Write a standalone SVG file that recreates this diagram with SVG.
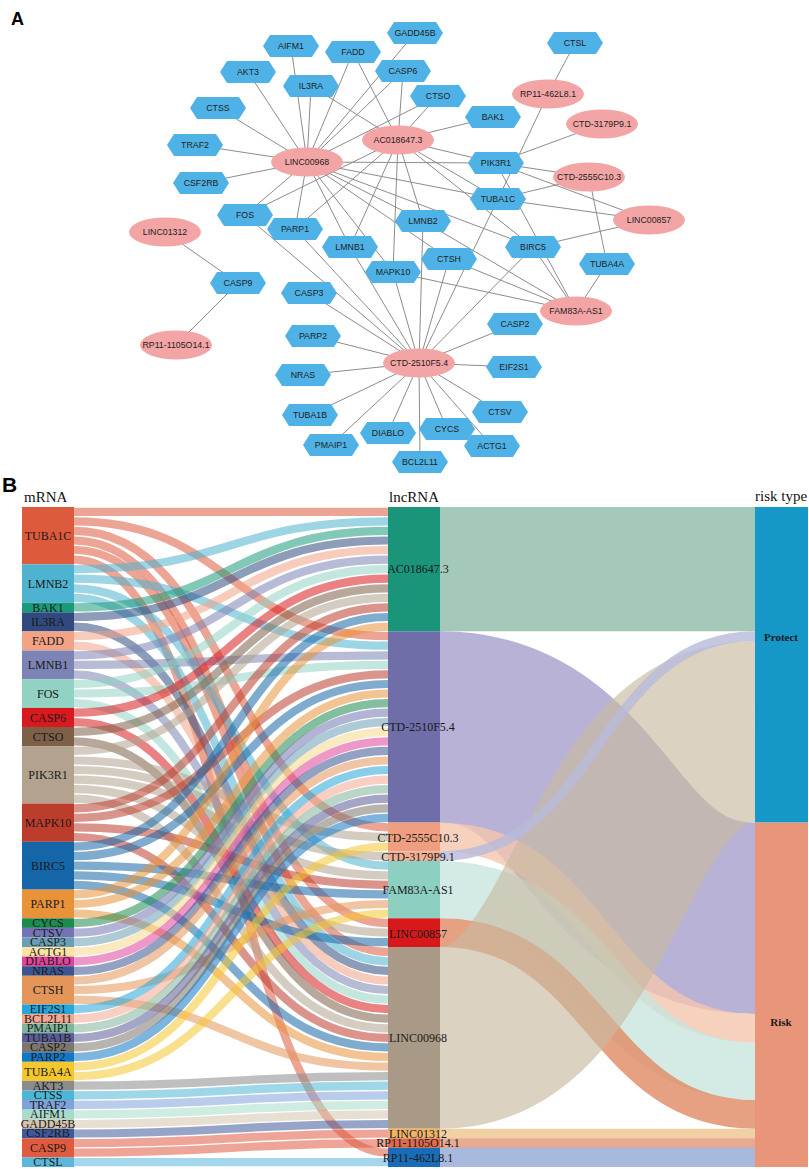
<svg xmlns="http://www.w3.org/2000/svg" xmlns:xlink="http://www.w3.org/1999/xlink" width="809" height="1169" viewBox="0 0 809 1169">
<style>
.bg{fill:#fff}
.ed{stroke:#8c8c8c;stroke-width:1;fill:none}
.hx{fill:#4fb2e6}
.el{fill:#f3a5a5}
.nt{font-family:"Liberation Sans",Arial,sans-serif;font-size:8.8px;fill:#1e1e1e;text-anchor:middle}
.pl{font-family:"Liberation Sans",Arial,sans-serif;font-weight:bold;fill:#000}
.hd{font-family:"Liberation Serif","Times New Roman",serif;font-size:15px;fill:#111}
.ml{font-family:"Liberation Serif","Times New Roman",serif;font-size:12px;fill:#1a1a1a;text-anchor:middle}
.rl{font-family:"Liberation Serif","Times New Roman",serif;font-size:11px;font-weight:bold;fill:#1a1a1a;text-anchor:middle}
.lk{fill:none;stroke-width:8.2;stroke-opacity:0.55}
.rk{fill:none;stroke-opacity:0.8}
.rb{fill:none;stroke-opacity:0.65}
</style>
<defs>
<polygon id="hex" points="-28,0 -21,-11 21,-11 28,0 21,11 -21,11"/>
</defs>
<rect class="bg" x="0" y="0" width="809" height="1169"/>
<text class="pl" x="11" y="25" font-size="18">A</text>
<text class="pl" x="2" y="492" font-size="21">B</text>

<!-- ============ Part A connectors ============ -->
<g id="network-edges">
<line class="ed" x1="398" y1="140" x2="498" y2="199"/>
<line class="ed" x1="398" y1="140" x2="423" y2="221"/>
<line class="ed" x1="398" y1="140" x2="493" y2="117"/>
<line class="ed" x1="398" y1="140" x2="311" y2="86"/>
<line class="ed" x1="398" y1="140" x2="353" y2="52"/>
<line class="ed" x1="398" y1="140" x2="350" y2="247"/>
<line class="ed" x1="398" y1="140" x2="245" y2="215"/>
<line class="ed" x1="398" y1="140" x2="403" y2="71"/>
<line class="ed" x1="398" y1="140" x2="438" y2="96"/>
<line class="ed" x1="398" y1="140" x2="496" y2="163"/>
<line class="ed" x1="398" y1="140" x2="393" y2="272"/>
<line class="ed" x1="398" y1="140" x2="533" y2="247"/>
<line class="ed" x1="398" y1="140" x2="295" y2="229"/>
<line class="ed" x1="419" y1="363" x2="498" y2="199"/>
<line class="ed" x1="419" y1="363" x2="423" y2="221"/>
<line class="ed" x1="419" y1="363" x2="350" y2="247"/>
<line class="ed" x1="419" y1="363" x2="245" y2="215"/>
<line class="ed" x1="419" y1="363" x2="393" y2="272"/>
<line class="ed" x1="419" y1="363" x2="533" y2="247"/>
<line class="ed" x1="419" y1="363" x2="295" y2="229"/>
<line class="ed" x1="419" y1="363" x2="447" y2="429"/>
<line class="ed" x1="419" y1="363" x2="500" y2="412"/>
<line class="ed" x1="419" y1="363" x2="309" y2="293"/>
<line class="ed" x1="419" y1="363" x2="492" y2="446"/>
<line class="ed" x1="419" y1="363" x2="388" y2="433"/>
<line class="ed" x1="419" y1="363" x2="303" y2="375"/>
<line class="ed" x1="419" y1="363" x2="449" y2="259"/>
<line class="ed" x1="419" y1="363" x2="514" y2="367"/>
<line class="ed" x1="419" y1="363" x2="420" y2="462"/>
<line class="ed" x1="419" y1="363" x2="331" y2="445"/>
<line class="ed" x1="419" y1="363" x2="310" y2="415"/>
<line class="ed" x1="419" y1="363" x2="515" y2="324"/>
<line class="ed" x1="419" y1="363" x2="313" y2="336"/>
<line class="ed" x1="589" y1="177" x2="498" y2="199"/>
<line class="ed" x1="589" y1="177" x2="496" y2="163"/>
<line class="ed" x1="589" y1="177" x2="607" y2="264"/>
<line class="ed" x1="602" y1="124" x2="496" y2="163"/>
<line class="ed" x1="576" y1="311" x2="423" y2="221"/>
<line class="ed" x1="576" y1="311" x2="496" y2="163"/>
<line class="ed" x1="576" y1="311" x2="393" y2="272"/>
<line class="ed" x1="576" y1="311" x2="533" y2="247"/>
<line class="ed" x1="576" y1="311" x2="449" y2="259"/>
<line class="ed" x1="576" y1="311" x2="607" y2="264"/>
<line class="ed" x1="649" y1="220" x2="498" y2="199"/>
<line class="ed" x1="649" y1="220" x2="496" y2="163"/>
<line class="ed" x1="649" y1="220" x2="533" y2="247"/>
<line class="ed" x1="307" y1="162" x2="498" y2="199"/>
<line class="ed" x1="307" y1="162" x2="423" y2="221"/>
<line class="ed" x1="307" y1="162" x2="311" y2="86"/>
<line class="ed" x1="307" y1="162" x2="353" y2="52"/>
<line class="ed" x1="307" y1="162" x2="350" y2="247"/>
<line class="ed" x1="307" y1="162" x2="245" y2="215"/>
<line class="ed" x1="307" y1="162" x2="403" y2="71"/>
<line class="ed" x1="307" y1="162" x2="438" y2="96"/>
<line class="ed" x1="307" y1="162" x2="496" y2="163"/>
<line class="ed" x1="307" y1="162" x2="393" y2="272"/>
<line class="ed" x1="307" y1="162" x2="533" y2="247"/>
<line class="ed" x1="307" y1="162" x2="295" y2="229"/>
<line class="ed" x1="307" y1="162" x2="449" y2="259"/>
<line class="ed" x1="307" y1="162" x2="248" y2="72"/>
<line class="ed" x1="307" y1="162" x2="218" y2="108"/>
<line class="ed" x1="307" y1="162" x2="195" y2="145"/>
<line class="ed" x1="307" y1="162" x2="291" y2="46"/>
<line class="ed" x1="307" y1="162" x2="415" y2="33"/>
<line class="ed" x1="307" y1="162" x2="201" y2="183"/>
<line class="ed" x1="165" y1="232" x2="238" y2="283"/>
<line class="ed" x1="176" y1="345" x2="238" y2="283"/>
<line class="ed" x1="548" y1="94" x2="498" y2="199"/>
<line class="ed" x1="548" y1="94" x2="575" y2="43"/>
</g>

<!-- ============ Part A nodes ============ -->
<g id="n-GADD45B"><use href="#hex" class="hx" x="415" y="33"/><text class="nt" x="415" y="36">GADD45B</text></g>
<g id="n-AIFM1"><use href="#hex" class="hx" x="291" y="46"/><text class="nt" x="291" y="49">AIFM1</text></g>
<g id="n-FADD"><use href="#hex" class="hx" x="353" y="52"/><text class="nt" x="353" y="55">FADD</text></g>
<g id="n-CTSL"><use href="#hex" class="hx" x="575" y="43"/><text class="nt" x="575" y="46">CTSL</text></g>
<g id="n-AKT3"><use href="#hex" class="hx" x="248" y="72"/><text class="nt" x="248" y="75">AKT3</text></g>
<g id="n-CASP6"><use href="#hex" class="hx" x="403" y="71"/><text class="nt" x="403" y="74">CASP6</text></g>
<g id="n-IL3RA"><use href="#hex" class="hx" x="311" y="86"/><text class="nt" x="311" y="89">IL3RA</text></g>
<g id="n-CTSO"><use href="#hex" class="hx" x="438" y="96"/><text class="nt" x="438" y="99">CTSO</text></g>
<g id="n-BAK1"><use href="#hex" class="hx" x="493" y="117"/><text class="nt" x="493" y="120">BAK1</text></g>
<g id="n-CTSS"><use href="#hex" class="hx" x="218" y="108"/><text class="nt" x="218" y="111">CTSS</text></g>
<g id="n-TRAF2"><use href="#hex" class="hx" x="195" y="145"/><text class="nt" x="195" y="148">TRAF2</text></g>
<g id="n-PIK3R1"><use href="#hex" class="hx" x="496" y="163"/><text class="nt" x="496" y="166">PIK3R1</text></g>
<g id="n-CSF2RB"><use href="#hex" class="hx" x="201" y="183"/><text class="nt" x="201" y="186">CSF2RB</text></g>
<g id="n-TUBA1C"><use href="#hex" class="hx" x="498" y="199"/><text class="nt" x="498" y="202">TUBA1C</text></g>
<g id="n-FOS"><use href="#hex" class="hx" x="245" y="215"/><text class="nt" x="245" y="218">FOS</text></g>
<g id="n-LMNB2"><use href="#hex" class="hx" x="423" y="221"/><text class="nt" x="423" y="224">LMNB2</text></g>
<g id="n-PARP1"><use href="#hex" class="hx" x="295" y="229"/><text class="nt" x="295" y="232">PARP1</text></g>
<g id="n-LMNB1"><use href="#hex" class="hx" x="350" y="247"/><text class="nt" x="350" y="250">LMNB1</text></g>
<g id="n-BIRC5"><use href="#hex" class="hx" x="533" y="247"/><text class="nt" x="533" y="250">BIRC5</text></g>
<g id="n-CTSH"><use href="#hex" class="hx" x="449" y="259"/><text class="nt" x="449" y="262">CTSH</text></g>
<g id="n-MAPK10"><use href="#hex" class="hx" x="393" y="272"/><text class="nt" x="393" y="275">MAPK10</text></g>
<g id="n-TUBA4A"><use href="#hex" class="hx" x="607" y="264"/><text class="nt" x="607" y="267">TUBA4A</text></g>
<g id="n-CASP9"><use href="#hex" class="hx" x="238" y="283"/><text class="nt" x="238" y="286">CASP9</text></g>
<g id="n-CASP3"><use href="#hex" class="hx" x="309" y="293"/><text class="nt" x="309" y="296">CASP3</text></g>
<g id="n-CASP2"><use href="#hex" class="hx" x="515" y="324"/><text class="nt" x="515" y="327">CASP2</text></g>
<g id="n-PARP2"><use href="#hex" class="hx" x="313" y="336"/><text class="nt" x="313" y="339">PARP2</text></g>
<g id="n-NRAS"><use href="#hex" class="hx" x="303" y="375"/><text class="nt" x="303" y="378">NRAS</text></g>
<g id="n-EIF2S1"><use href="#hex" class="hx" x="514" y="367"/><text class="nt" x="514" y="370">EIF2S1</text></g>
<g id="n-TUBA1B"><use href="#hex" class="hx" x="310" y="415"/><text class="nt" x="310" y="418">TUBA1B</text></g>
<g id="n-CTSV"><use href="#hex" class="hx" x="500" y="412"/><text class="nt" x="500" y="415">CTSV</text></g>
<g id="n-CYCS"><use href="#hex" class="hx" x="447" y="429"/><text class="nt" x="447" y="432">CYCS</text></g>
<g id="n-DIABLO"><use href="#hex" class="hx" x="388" y="433"/><text class="nt" x="388" y="436">DIABLO</text></g>
<g id="n-PMAIP1"><use href="#hex" class="hx" x="331" y="445"/><text class="nt" x="331" y="448">PMAIP1</text></g>
<g id="n-ACTG1"><use href="#hex" class="hx" x="492" y="446"/><text class="nt" x="492" y="449">ACTG1</text></g>
<g id="n-BCL2L11"><use href="#hex" class="hx" x="420" y="462"/><text class="nt" x="420" y="465">BCL2L11</text></g>

<g id="n-RP11-462L8.1"><ellipse class="el" cx="548" cy="94" rx="36" ry="14.5"/><text class="nt" x="548" y="97">RP11-462L8.1</text></g>
<g id="n-CTD-3179P9.1"><ellipse class="el" cx="602" cy="124" rx="36" ry="14.5"/><text class="nt" x="602" y="127">CTD-3179P9.1</text></g>
<g id="n-AC018647.3"><ellipse class="el" cx="398" cy="140" rx="36" ry="14.5"/><text class="nt" x="398" y="143">AC018647.3</text></g>
<g id="n-LINC00968"><ellipse class="el" cx="307" cy="162" rx="36" ry="14.5"/><text class="nt" x="307" y="165">LINC00968</text></g>
<g id="n-CTD-2555C10.3"><ellipse class="el" cx="589" cy="177" rx="36" ry="14.5"/><text class="nt" x="589" y="180">CTD-2555C10.3</text></g>
<g id="n-LINC00857"><ellipse class="el" cx="649" cy="220" rx="36" ry="14.5"/><text class="nt" x="649" y="223">LINC00857</text></g>
<g id="n-LINC01312"><ellipse class="el" cx="165" cy="232" rx="36" ry="14.5"/><text class="nt" x="165" y="235">LINC01312</text></g>
<g id="n-FAM83A-AS1"><ellipse class="el" cx="576" cy="311" rx="36" ry="14.5"/><text class="nt" x="576" y="314">FAM83A-AS1</text></g>
<g id="n-RP11-1105O14.1"><ellipse class="el" cx="176" cy="345" rx="36" ry="14.5"/><text class="nt" x="176" y="348">RP11-1105O14.1</text></g>
<g id="n-CTD-2510F5.4"><ellipse class="el" cx="419" cy="363" rx="36" ry="14.5"/><text class="nt" x="419" y="366">CTD-2510F5.4</text></g>

<!-- ============ Part B ============ -->
<text class="hd" x="24" y="502">mRNA</text>
<text class="hd" x="389" y="502">lncRNA</text>
<text class="hd" x="755" y="501">risk type</text>

<g id="sankey-links">
<path class="lk" stroke="#dd5a3c" d="M74,511.8 C231,511.8 231,511.8 388,511.8"/>
<path class="lk" stroke="#dd5a3c" d="M74,521.3 C231,521.3 231,636.1 388,636.1"/>
<path class="lk" stroke="#dd5a3c" d="M74,530.9 C231,530.9 231,827.4 388,827.4"/>
<path class="lk" stroke="#dd5a3c" d="M74,540.5 C231,540.5 231,923.1 388,923.1"/>
<path class="lk" stroke="#dd5a3c" d="M74,550.0 C231,550.0 231,951.8 388,951.8"/>
<path class="lk" stroke="#dd5a3c" d="M74,559.6 C231,559.6 231,1152.7 388,1152.7"/>
<path class="lk" stroke="#4eb3d0" d="M74,569.2 C231,569.2 231,521.3 388,521.3"/>
<path class="lk" stroke="#4eb3d0" d="M74,578.7 C231,578.7 231,645.7 388,645.7"/>
<path class="lk" stroke="#4eb3d0" d="M74,588.3 C231,588.3 231,865.7 388,865.7"/>
<path class="lk" stroke="#4eb3d0" d="M74,597.9 C231,597.9 231,961.3 388,961.3"/>
<path class="lk" stroke="#1a9a7c" d="M74,607.4 C231,607.4 231,530.9 388,530.9"/>
<path class="lk" stroke="#304a80" d="M74,617.0 C231,617.0 231,540.5 388,540.5"/>
<path class="lk" stroke="#304a80" d="M74,626.6 C231,626.6 231,970.9 388,970.9"/>
<path class="lk" stroke="#f2a285" d="M74,636.1 C231,636.1 231,550.0 388,550.0"/>
<path class="lk" stroke="#f2a285" d="M74,645.7 C231,645.7 231,980.5 388,980.5"/>
<path class="lk" stroke="#7b84b4" d="M74,655.3 C231,655.3 231,559.6 388,559.6"/>
<path class="lk" stroke="#7b84b4" d="M74,664.8 C231,664.8 231,655.3 388,655.3"/>
<path class="lk" stroke="#7b84b4" d="M74,674.4 C231,674.4 231,990.0 388,990.0"/>
<path class="lk" stroke="#91d2c2" d="M74,684.0 C231,684.0 231,569.2 388,569.2"/>
<path class="lk" stroke="#91d2c2" d="M74,693.5 C231,693.5 231,664.8 388,664.8"/>
<path class="lk" stroke="#91d2c2" d="M74,703.1 C231,703.1 231,999.6 388,999.6"/>
<path class="lk" stroke="#d8191e" d="M74,712.7 C231,712.7 231,578.7 388,578.7"/>
<path class="lk" stroke="#d8191e" d="M74,722.2 C231,722.2 231,1009.2 388,1009.2"/>
<path class="lk" stroke="#7e6049" d="M74,731.8 C231,731.8 231,588.3 388,588.3"/>
<path class="lk" stroke="#7e6049" d="M74,741.3 C231,741.3 231,1018.7 388,1018.7"/>
<path class="lk" stroke="#b3a28e" d="M74,750.9 C231,750.9 231,597.9 388,597.9"/>
<path class="lk" stroke="#b3a28e" d="M74,760.5 C231,760.5 231,837.0 388,837.0"/>
<path class="lk" stroke="#b3a28e" d="M74,770.0 C231,770.0 231,856.1 388,856.1"/>
<path class="lk" stroke="#b3a28e" d="M74,779.6 C231,779.6 231,875.3 388,875.3"/>
<path class="lk" stroke="#b3a28e" d="M74,789.2 C231,789.2 231,932.7 388,932.7"/>
<path class="lk" stroke="#b3a28e" d="M74,798.7 C231,798.7 231,1028.3 388,1028.3"/>
<path class="lk" stroke="#bd3d2c" d="M74,808.3 C231,808.3 231,607.4 388,607.4"/>
<path class="lk" stroke="#bd3d2c" d="M74,817.9 C231,817.9 231,674.4 388,674.4"/>
<path class="lk" stroke="#bd3d2c" d="M74,827.4 C231,827.4 231,884.8 388,884.8"/>
<path class="lk" stroke="#bd3d2c" d="M74,837.0 C231,837.0 231,1037.9 388,1037.9"/>
<path class="lk" stroke="#1566a8" d="M74,846.6 C231,846.6 231,617.0 388,617.0"/>
<path class="lk" stroke="#1566a8" d="M74,856.1 C231,856.1 231,684.0 388,684.0"/>
<path class="lk" stroke="#1566a8" d="M74,865.7 C231,865.7 231,894.4 388,894.4"/>
<path class="lk" stroke="#1566a8" d="M74,875.3 C231,875.3 231,942.2 388,942.2"/>
<path class="lk" stroke="#1566a8" d="M74,884.8 C231,884.8 231,1047.4 388,1047.4"/>
<path class="lk" stroke="#e8923a" d="M74,894.4 C231,894.4 231,626.6 388,626.6"/>
<path class="lk" stroke="#e8923a" d="M74,904.0 C231,904.0 231,693.5 388,693.5"/>
<path class="lk" stroke="#e8923a" d="M74,913.5 C231,913.5 231,1057.0 388,1057.0"/>
<path class="lk" stroke="#1d8a50" d="M74,923.1 C231,923.1 231,703.1 388,703.1"/>
<path class="lk" stroke="#7474b4" d="M74,932.7 C231,932.7 231,712.7 388,712.7"/>
<path class="lk" stroke="#6a9fb5" d="M74,942.2 C231,942.2 231,722.2 388,722.2"/>
<path class="lk" stroke="#f7d98a" d="M74,951.8 C231,951.8 231,731.8 388,731.8"/>
<path class="lk" stroke="#e0449c" d="M74,961.3 C231,961.3 231,741.3 388,741.3"/>
<path class="lk" stroke="#3b5590" d="M74,970.9 C231,970.9 231,750.9 388,750.9"/>
<path class="lk" stroke="#e4955a" d="M74,980.5 C231,980.5 231,760.5 388,760.5"/>
<path class="lk" stroke="#e4955a" d="M74,990.0 C231,990.0 231,904.0 388,904.0"/>
<path class="lk" stroke="#e4955a" d="M74,999.6 C231,999.6 231,1066.6 388,1066.6"/>
<path class="lk" stroke="#27a6da" d="M74,1009.2 C231,1009.2 231,770.0 388,770.0"/>
<path class="lk" stroke="#f2a890" d="M74,1018.7 C231,1018.7 231,779.6 388,779.6"/>
<path class="lk" stroke="#7fb59b" d="M74,1028.3 C231,1028.3 231,789.2 388,789.2"/>
<path class="lk" stroke="#5b5c98" d="M74,1037.9 C231,1037.9 231,798.7 388,798.7"/>
<path class="lk" stroke="#7b7670" d="M74,1047.4 C231,1047.4 231,808.3 388,808.3"/>
<path class="lk" stroke="#1378c4" d="M74,1057.0 C231,1057.0 231,817.9 388,817.9"/>
<path class="lk" stroke="#f4c72f" d="M74,1066.6 C231,1066.6 231,846.6 388,846.6"/>
<path class="lk" stroke="#f4c72f" d="M74,1076.1 C231,1076.1 231,913.5 388,913.5"/>
<path class="lk" stroke="#8b8b8b" d="M74,1085.7 C231,1085.7 231,1076.1 388,1076.1"/>
<path class="lk" stroke="#4db6d6" d="M74,1095.3 C231,1095.3 231,1085.7 388,1085.7"/>
<path class="lk" stroke="#80a2da" d="M74,1104.8 C231,1104.8 231,1095.3 388,1095.3"/>
<path class="lk" stroke="#a6dccb" d="M74,1114.4 C231,1114.4 231,1104.8 388,1104.8"/>
<path class="lk" stroke="#d3c4ad" d="M74,1124.0 C231,1124.0 231,1114.4 388,1114.4"/>
<path class="lk" stroke="#3f5a9b" d="M74,1133.5 C231,1133.5 231,1124.0 388,1124.0"/>
<path class="lk" stroke="#e05a3f" d="M74,1143.1 C231,1143.1 231,1133.5 388,1133.5"/>
<path class="lk" stroke="#e05a3f" d="M74,1152.7 C231,1152.7 231,1143.1 388,1143.1"/>
<path class="lk" stroke="#5ab7da" d="M74,1162.2 C231,1162.2 231,1162.2 388,1162.2"/>
<!-- lncRNA -> risk type -->
<path class="rk" stroke="#8fbba8" stroke-width="124.3" d="M440,569.2 C597.5,569.2 597.5,569.2 755,569.2"/>
<path class="rb" stroke="#9288c0" stroke-width="191.3" d="M440,727.0 C597.5,727.0 597.5,918.3 755,918.3"/>
<path class="rk" stroke="#f4c6ae" stroke-width="28.7" d="M440,837.0 C597.5,837.0 597.5,1028.3 755,1028.3"/>
<path class="rk" stroke="#c9e5dd" stroke-width="57.4" d="M440,889.6 C597.5,889.6 597.5,1071.3 755,1071.3"/>
<path class="rk" stroke="#e08a63" stroke-width="28.7" d="M440,932.7 C597.5,932.7 597.5,1114.4 755,1114.4"/>
<path class="rb" stroke="#c9baa1" stroke-width="181.7" d="M440,1037.9 C597.5,1037.9 597.5,731.8 755,731.8"/>
<path class="rk" stroke="#b8bad9" stroke-width="9.6" d="M440,856.1 C597.5,856.1 597.5,636.1 755,636.1"/>
<path class="rk" stroke="#eec48c" stroke-width="9.6" d="M440,1133.5 C597.5,1133.5 597.5,1133.5 755,1133.5"/>
<path class="rk" stroke="#e39578" stroke-width="9.6" d="M440,1143.1 C597.5,1143.1 597.5,1143.1 755,1143.1"/>
<path class="rk" stroke="#93a8d6" stroke-width="19.1" d="M440,1157.4 C597.5,1157.4 597.5,1157.4 755,1157.4"/>
</g>

<!-- mRNA nodes -->
<g id="m-TUBA1C"><rect x="22" y="507" width="52" height="57.4" fill="#dd5a3c"/><text class="ml" x="48" y="540">TUBA1C</text></g>
<g id="m-LMNB2"><rect x="22" y="564.4" width="52" height="38.3" fill="#4eb3d0"/><text class="ml" x="48" y="588">LMNB2</text></g>
<g id="m-BAK1"><rect x="22" y="602.7" width="52" height="9.6" fill="#1a9a7c"/><text class="ml" x="48" y="611.5">BAK1</text></g>
<g id="m-IL3RA"><rect x="22" y="612.3" width="52" height="19.1" fill="#304a80"/><text class="ml" x="48" y="626">IL3RA</text></g>
<g id="m-FADD"><rect x="22" y="631.4" width="52" height="19.1" fill="#f2a285"/><text class="ml" x="48" y="645">FADD</text></g>
<g id="m-LMNB1"><rect x="22" y="650.5" width="52" height="28.7" fill="#7b84b4"/><text class="ml" x="48" y="669">LMNB1</text></g>
<g id="m-FOS"><rect x="22" y="679.2" width="52" height="28.7" fill="#91d2c2"/><text class="ml" x="48" y="698">FOS</text></g>
<g id="m-CASP6"><rect x="22" y="707.9" width="52" height="19.1" fill="#d8191e"/><text class="ml" x="48" y="721.5">CASP6</text></g>
<g id="m-CTSO"><rect x="22" y="727" width="52" height="19.1" fill="#7e6049"/><text class="ml" x="48" y="741">CTSO</text></g>
<g id="m-PIK3R1"><rect x="22" y="746.1" width="52" height="57.4" fill="#b3a28e"/><text class="ml" x="48" y="779">PIK3R1</text></g>
<g id="m-MAPK10"><rect x="22" y="803.5" width="52" height="38.3" fill="#bd3d2c"/><text class="ml" x="48" y="827">MAPK10</text></g>
<g id="m-BIRC5"><rect x="22" y="841.8" width="52" height="47.8" fill="#1566a8"/><text class="ml" x="48" y="870">BIRC5</text></g>
<g id="m-PARP1"><rect x="22" y="889.6" width="52" height="28.7" fill="#e8923a"/><text class="ml" x="48" y="908">PARP1</text></g>
<g id="m-CYCS"><rect x="22" y="918.3" width="52" height="9.6" fill="#1d8a50"/><text class="ml" x="48" y="927">CYCS</text></g>
<g id="m-CTSV"><rect x="22" y="927.9" width="52" height="9.6" fill="#7474b4"/><text class="ml" x="48" y="936.5">CTSV</text></g>
<g id="m-CASP3"><rect x="22" y="937.5" width="52" height="9.6" fill="#6a9fb5"/><text class="ml" x="48" y="946">CASP3</text></g>
<g id="m-ACTG1"><rect x="22" y="947.1" width="52" height="9.6" fill="#fbe3a4"/><text class="ml" x="48" y="955.5">ACTG1</text></g>
<g id="m-DIABLO"><rect x="22" y="956.6" width="52" height="9.6" fill="#e0449c"/><text class="ml" x="48" y="965">DIABLO</text></g>
<g id="m-NRAS"><rect x="22" y="966.2" width="52" height="9.6" fill="#3b5590"/><text class="ml" x="48" y="974.5">NRAS</text></g>
<g id="m-CTSH"><rect x="22" y="975.7" width="52" height="28.7" fill="#e4955a"/><text class="ml" x="48" y="994">CTSH</text></g>
<g id="m-EIF2S1"><rect x="22" y="1004.4" width="52" height="9.6" fill="#27a6da"/><text class="ml" x="48" y="1013">EIF2S1</text></g>
<g id="m-BCL2L11"><rect x="22" y="1014" width="52" height="9.6" fill="#f2a890"/><text class="ml" x="48" y="1022.5">BCL2L11</text></g>
<g id="m-PMAIP1"><rect x="22" y="1023.6" width="52" height="9.6" fill="#7fb59b"/><text class="ml" x="48" y="1032">PMAIP1</text></g>
<g id="m-TUBA1B"><rect x="22" y="1033.1" width="52" height="9.6" fill="#5b5c98"/><text class="ml" x="48" y="1041.5">TUBA1B</text></g>
<g id="m-CASP2"><rect x="22" y="1042.7" width="52" height="9.6" fill="#7b7670"/><text class="ml" x="48" y="1051">CASP2</text></g>
<g id="m-PARP2"><rect x="22" y="1052.2" width="52" height="9.6" fill="#1378c4"/><text class="ml" x="48" y="1060.5">PARP2</text></g>
<g id="m-TUBA4A"><rect x="22" y="1061.8" width="52" height="19.1" fill="#f4c72f"/><text class="ml" x="48" y="1075.5">TUBA4A</text></g>
<g id="m-AKT3"><rect x="22" y="1080.9" width="52" height="9.6" fill="#8b8b8b"/><text class="ml" x="48" y="1089.5">AKT3</text></g>
<g id="m-CTSS"><rect x="22" y="1090.5" width="52" height="9.6" fill="#4db6d6"/><text class="ml" x="48" y="1099">CTSS</text></g>
<g id="m-TRAF2"><rect x="22" y="1100" width="52" height="9.6" fill="#80a2da"/><text class="ml" x="48" y="1108.5">TRAF2</text></g>
<g id="m-AIFM1"><rect x="22" y="1109.6" width="52" height="9.6" fill="#a6dccb"/><text class="ml" x="48" y="1118">AIFM1</text></g>
<g id="m-GADD45B"><rect x="22" y="1119.2" width="52" height="9.6" fill="#d3c4ad"/><text class="ml" x="48" y="1127.5">GADD45B</text></g>
<g id="m-CSF2RB"><rect x="22" y="1128.7" width="52" height="9.6" fill="#3f5a9b"/><text class="ml" x="48" y="1137">CSF2RB</text></g>
<g id="m-CASP9"><rect x="22" y="1138.3" width="52" height="19.1" fill="#e05a3f"/><text class="ml" x="48" y="1152">CASP9</text></g>
<g id="m-CTSL"><rect x="22" y="1157.4" width="52" height="9.6" fill="#5ab7da"/><text class="ml" x="48" y="1166">CTSL</text></g>

<!-- lncRNA nodes -->
<g id="l-AC018647.3"><rect x="388" y="507" width="52" height="124.3" fill="#1a957a"/><text class="ml" x="418" y="573">AC018647.3</text></g>
<g id="l-CTD-2510F5.4"><rect x="388" y="631.3" width="52" height="191.3" fill="#6f6ea8"/><text class="ml" x="418" y="731">CTD-2510F5.4</text></g>
<g id="l-CTD-2555C10.3"><rect x="388" y="822.6" width="52" height="28.7" fill="#ef9f80"/><text class="ml" x="418" y="842">CTD-2555C10.3</text></g>
<g id="l-CTD-3179P9.1"><rect x="388" y="851.3" width="52" height="9.6" fill="#f2ae94"/><text class="ml" x="418" y="861">CTD-3179P9.1</text></g>
<g id="l-FAM83A-AS1"><rect x="388" y="860.9" width="52" height="57.4" fill="#8dcfc1"/><text class="ml" x="418" y="894">FAM83A-AS1</text></g>
<g id="l-LINC00857"><rect x="388" y="918.3" width="52" height="28.7" fill="#d7191c"/><text class="ml" x="418" y="938">LINC00857</text></g>
<g id="l-LINC00968"><rect x="388" y="947" width="52" height="181.7" fill="#a99a87"/><text class="ml" x="418" y="1042">LINC00968</text></g>
<g id="l-LINC01312"><rect x="388" y="1128.7" width="52" height="9.6" fill="#f0b468"/><text class="ml" x="418" y="1137.5">LINC01312</text></g>
<g id="l-RP11-1105O14.1"><rect x="388" y="1138.3" width="52" height="9.6" fill="#e06b4c"/><text class="ml" x="418" y="1147">RP11-1105O14.1</text></g>
<g id="l-RP11-462L8.1"><rect x="388" y="1147.9" width="52" height="19.1" fill="#1b6cb6"/><text class="ml" x="418" y="1161.5">RP11-462L8.1</text></g>

<!-- risk type nodes -->
<g id="r-Protect"><rect x="755" y="507" width="53" height="315.6" fill="#1597c8"/><text class="rl" x="781" y="641">Protect</text></g>
<g id="r-Risk"><rect x="755" y="822.6" width="53" height="344.4" fill="#e9957a"/><text class="rl" x="781" y="1026">Risk</text></g>
</svg>
